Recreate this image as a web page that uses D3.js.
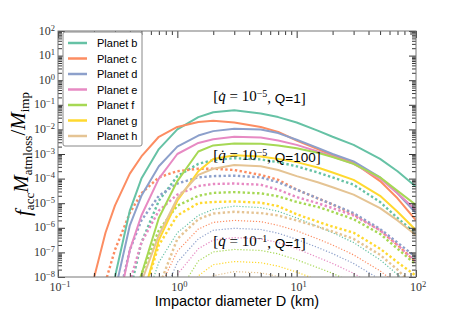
<!DOCTYPE html>
<html>
<head>
<meta charset="utf-8">
<script src="https://cdn.jsdelivr.net/npm/d3@7/dist/d3.min.js"></script>
<style>
  body { margin: 0; background: #fff; }
</style>
</head>
<body>
<div id="chart"></div>
<script>
// Size of the figure and the plot box inside it
const width = 463;
const height = 309;
const margin = { top: 31, right: 47, bottom: 32, left: 58 };

// Planets and their colours (Set2)
const planets = ["Planet b", "Planet c", "Planet d", "Planet e", "Planet f", "Planet g", "Planet h"];
const colors = ["#66c2a5", "#fc8d62", "#8da0cb", "#e78ac3", "#a6d854", "#ffd92f", "#e5c494"];

// Impactor diameters (km) where the curves are sampled
const diameters = [0.2, 0.25, 0.3, 0.4, 0.5, 0.7, 1, 1.5, 2, 3, 5, 7, 10, 15, 20, 30, 50, 70, 100];

// log10(f_acc * M_atmloss / M_imp), one row per planet, null = not drawn
// [qdot = 1e-5, Q = 1]  (solid)
const q5Q1 = [
  [null, -10.5, -8.0, -5.3, -4.0, -2.8, -2.0, -1.5, -1.3, -1.22, -1.35, -1.5, -1.72, -2.05, -2.3, -2.63, -3.2, -3.7, -4.33],
  [-8.05, -6.2, -5.1, -3.8, -3.1, -2.3, -1.9, -1.7, -1.65, -1.72, -1.9, -2.1, -2.45, -2.8, -3.05, -3.35, -4.1, -4.8, -5.7],
  [null, null, -8.6, -5.9, -4.7, -3.5, -2.7, -2.25, -2.07, -1.97, -2.0, -2.15, -2.42, -2.75, -3.0, -3.3, -3.95, -4.6, -5.4],
  [null, null, -9.8, -6.9, -5.5, -4.0, -3.0, -2.55, -2.4, -2.3, -2.33, -2.45, -2.63, -2.9, -3.1, -3.4, -4.0, -4.6, -5.28],
  [null, null, null, -9.8, -7.9, -5.6, -4.1, -2.9, -2.65, -2.57, -2.58, -2.65, -2.77, -2.95, -3.12, -3.4, -3.95, -4.5, -5.07],
  [null, null, null, null, -9.0, -6.5, -4.9, -3.7, -3.2, -3.05, -3.1, -3.2, -3.33, -3.55, -3.75, -4.05, -4.7, -5.35, -6.1],
  [null, null, null, null, -8.2, -6.3, -4.8, -3.85, -3.6, -3.45, -3.5, -3.65, -3.9, -4.15, -4.35, -4.65, -5.2, -5.7, -6.3]
];
// [qdot = 1e-5, Q = 100]  (thick dots)
const q5Q100 = [
  [null, null, null, -8.6, -6.6, -4.9, -3.9, -3.4, -3.25, -3.17, -3.22, -3.33, -3.5, -3.75, -3.95, -4.25, -4.95, -5.6, -6.25],
  [null, -8.2, -6.9, -5.4, -4.6, -3.95, -3.7, -3.6, -3.6, -3.65, -3.85, -4.05, -4.45, -4.8, -5.05, -5.45, -6.1, -6.7, -7.4],
  [null, null, -9.5, -6.9, -5.7, -4.7, -4.2, -3.95, -3.9, -3.88, -3.95, -4.15, -4.45, -4.8, -5.05, -5.4, -6.05, -6.6, -7.2],
  [null, null, null, -8.2, -6.6, -5.3, -4.65, -4.3, -4.22, -4.2, -4.25, -4.45, -4.75, -5.0, -5.2, -5.5, -6.1, -6.7, -7.4],
  [null, null, null, -9.5, -7.9, -6.1, -5.1, -4.7, -4.58, -4.55, -4.6, -4.72, -4.95, -5.15, -5.35, -5.65, -6.25, -6.85, -7.5],
  [null, null, null, null, -9.0, -6.7, -5.5, -5.0, -4.95, -4.93, -4.98, -5.12, -5.45, -5.75, -5.95, -6.2, -6.85, -7.4, -7.95],
  [null, null, null, null, null, -8.4, -6.45, -5.65, -5.42, -5.35, -5.4, -5.5, -5.7, -5.95, -6.15, -6.45, -7.1, -7.7, -8.5]
];
// [qdot = 1e-1, Q = 1]  (thin dots)
const q1Q1 = [
  [null, null, null, null, -9.5, -7.4, -6.2, -5.5, -5.25, -5.12, -5.18, -5.33, -5.6, -5.95, -6.2, -6.6, -7.3, -7.9, -8.6],
  [null, null, null, null, null, -8.5, -6.95, -6.05, -5.78, -5.7, -5.75, -5.9, -6.12, -6.45, -6.7, -7.1, -7.75, -8.3, null],
  [null, null, null, null, null, -9.2, -7.4, -6.45, -6.1, -6.02, -6.07, -6.22, -6.47, -6.8, -7.05, -7.45, -8.1, -8.7, null],
  [null, null, null, null, null, null, -7.9, -6.85, -6.5, -6.4, -6.45, -6.6, -6.85, -7.2, -7.45, -7.85, -8.5, null, null],
  [null, null, null, null, null, null, -8.7, -7.35, -6.98, -6.88, -6.92, -7.06, -7.3, -7.62, -7.85, -8.25, -8.9, null, null],
  [null, null, null, null, null, null, -9.4, -7.95, -7.5, -7.37, -7.42, -7.56, -7.8, -8.12, -8.4, -8.9, null, null, null],
  [null, null, null, null, null, null, null, -8.6, -7.95, -7.78, -7.83, -7.98, -8.2, -8.55, -8.9, null, null, null, null]
];

// Tick positions
const xMajor = [0.1, 1, 10, 100];
const xExp = ["\u22121", "0", "1", "2"];
const yMajor = [1e-8, 1e-7, 1e-6, 1e-5, 1e-4, 1e-3, 1e-2, 1e-1, 1, 10, 100];
const yExp = ["\u22128", "\u22127", "\u22126", "\u22125", "\u22124", "\u22123", "\u22122", "\u22121", "0", "1", "2"];

const svg = d3.select("#chart").append("svg")
  .attr("width", width)
  .attr("height", height)
  .style("font-family", "'Liberation Serif', serif");

const x = d3.scaleLog().domain([0.1, 100]).range([margin.left, width - margin.right]);
const y = d3.scaleLog().domain([1e-8, 100]).range([height - margin.bottom, margin.top]);

// minor ticks: 2..9 in each decade
function minors(lo, hi) {
  const out = [];
  for (let e = lo; e < hi; e++) for (let k = 2; k <= 9; k++) out.push(k * Math.pow(10, e));
  return out;
}
const xMinor = minors(-1, 2);
const yMinor = minors(-8, 2);

svg.append("clipPath").attr("id", "plot-clip")
  .append("rect")
  .attr("x", margin.left).attr("y", margin.top)
  .attr("width", width - margin.left - margin.right)
  .attr("height", height - margin.top - margin.bottom);

// Curves
const line = d3.line()
  .defined(d => d[1] != null)
  .x(d => x(d[0]))
  .y(d => y(Math.pow(10, d[1])));

const groups = [
  { rows: q1Q1, width: 1.2, dash: "1.2,1.8" },
  { rows: q5Q100, width: 2.4, dash: "2.4,2.4" },
  { rows: q5Q1, width: 2, dash: null }
];

const plot = svg.append("g").attr("clip-path", "url(#plot-clip)");
groups.forEach(g => {
  plot.selectAll(null)
    .data(g.rows)
    .enter()
    .append("path")
    .attr("d", row => line(row.map((v, i) => [diameters[i], v])))
    .attr("fill", "none")
    .attr("stroke", (row, i) => colors[i])
    .attr("stroke-width", g.width)
    .attr("stroke-dasharray", g.dash)
    .attr("stroke-linejoin", "round");
});

// Axes: ticks on all four sides pointing inward
const inner = height - margin.top - margin.bottom;
const innerW = width - margin.left - margin.right;
function tickAxis(axis, values, size, transform) {
  svg.append("g")
    .attr("transform", transform)
    .call(axis.tickValues(values).tickSize(size).tickFormat(""))
    .call(g => g.select(".domain").remove())
    .call(g => g.selectAll("line").attr("stroke", "#222").attr("stroke-width", 0.9));
}
tickAxis(d3.axisBottom(x), xMajor, -7, `translate(0,${height - margin.bottom})`);
tickAxis(d3.axisBottom(x), xMinor, -4, `translate(0,${height - margin.bottom})`);
tickAxis(d3.axisTop(x), xMajor, -7, `translate(0,${margin.top})`);
tickAxis(d3.axisTop(x), xMinor, -4, `translate(0,${margin.top})`);
tickAxis(d3.axisLeft(y), yMajor, -7, `translate(${margin.left},0)`);
tickAxis(d3.axisLeft(y), yMinor, -4, `translate(${margin.left},0)`);
tickAxis(d3.axisRight(y), yMajor, -7, `translate(${width - margin.right},0)`);
tickAxis(d3.axisRight(y), yMinor, -4, `translate(${width - margin.right},0)`);

svg.append("rect")
  .attr("x", margin.left).attr("y", margin.top)
  .attr("width", innerW).attr("height", inner)
  .attr("fill", "none").attr("stroke", "#777").attr("stroke-width", 1);

// Tick labels as 10^n
function power(sel) {
  sel.append("tspan").text("10");
  sel.append("tspan").attr("dy", "-0.45em").attr("font-size", "8.5px").text(d => d.exp);
}
svg.selectAll(".ylab")
  .data(yMajor.map((v, i) => ({ v, exp: yExp[i] })))
  .enter().append("text")
  .attr("class", "ylab")
  .attr("x", margin.left - 3)
  .attr("y", d => y(d.v) + 3.5)
  .attr("text-anchor", "end")
  .attr("font-size", "12px")
  .attr("fill", "#333")
  .call(power);

svg.selectAll(".xlab")
  .data(xMajor.map((v, i) => ({ v, exp: xExp[i] })))
  .enter().append("text")
  .attr("class", "xlab")
  .attr("x", d => x(d.v) + 2)
  .attr("y", height - margin.bottom + 14)
  .attr("text-anchor", "middle")
  .attr("font-size", "12px")
  .attr("fill", "#333")
  .call(power);

// Axis titles
svg.append("text")
  .attr("x", (margin.left + width - margin.right) / 2)
  .attr("y", height - 3)
  .attr("text-anchor", "middle")
  .attr("font-family", "'Liberation Sans', Arial, sans-serif")
  .attr("font-size", "14.5px")
  .text("Impactor diameter D (km)");

const ytitle = svg.append("text")
  .attr("transform", `translate(30,${(margin.top + height - margin.bottom) / 2}) rotate(-90)`)
  .attr("text-anchor", "middle")
  .attr("font-size", "21px");
ytitle.append("tspan").attr("font-style", "italic").text("f");
ytitle.append("tspan").attr("font-size", "13px").attr("dy", "0.3em").text("acc");
ytitle.append("tspan").attr("font-style", "italic").attr("dy", "-0.3em").text("M");
ytitle.append("tspan").attr("font-size", "13px").attr("dy", "0.3em").text("atmloss");
ytitle.append("tspan").attr("dy", "-0.3em").text("/");
ytitle.append("tspan").attr("font-style", "italic").text("M");
ytitle.append("tspan").attr("font-size", "13px").attr("dy", "0.3em").text("imp");

// Scenario labels: qdot exponent, Q, label height on the y scale
const scenarios = [
  { exp: "\u22125", q: "1", at: 0.14 },
  { exp: "\u22125", q: "100", at: 5.7e-4 },
  { exp: "\u22121", q: "1", at: 1.8e-7 }
];
scenarios.forEach(s => {
  const t = svg.append("text")
    .attr("x", x(2.0))
    .attr("y", y(s.at))
    .attr("font-size", "15px");
  t.append("tspan").text("[");
  t.append("tspan").attr("font-style", "italic").text("q\u0307");
  t.append("tspan").text(" = 10");
  t.append("tspan").attr("dy", "-0.45em").attr("font-size", "10px").text(s.exp);
  t.append("tspan").attr("dy", "0.45em").text(", ");
  t.append("tspan").attr("font-family", "'Liberation Sans', Arial, sans-serif").attr("font-size", "13.5px").text("Q=" + s.q);
  t.append("tspan").text("]");
});

// Legend
const legend = svg.append("g").attr("transform", "translate(63,32)");
legend.append("rect")
  .attr("width", 79).attr("height", 114)
  .attr("rx", 2)
  .attr("fill", "#fff").attr("stroke", "#888").attr("stroke-width", 1);
const items = legend.selectAll(".item")
  .data(planets)
  .enter().append("g")
  .attr("transform", (d, i) => `translate(0,${11 + i * 15.5})`);
items.append("line")
  .attr("x1", 5).attr("x2", 24)
  .attr("stroke", (d, i) => colors[i])
  .attr("stroke-width", 2.5);
items.append("text")
  .attr("x", 34).attr("y", 4)
  .attr("font-family", "'Liberation Sans', Arial, sans-serif")
  .attr("font-size", "11px")
  .text(d => d);
</script>
</body>
</html>
